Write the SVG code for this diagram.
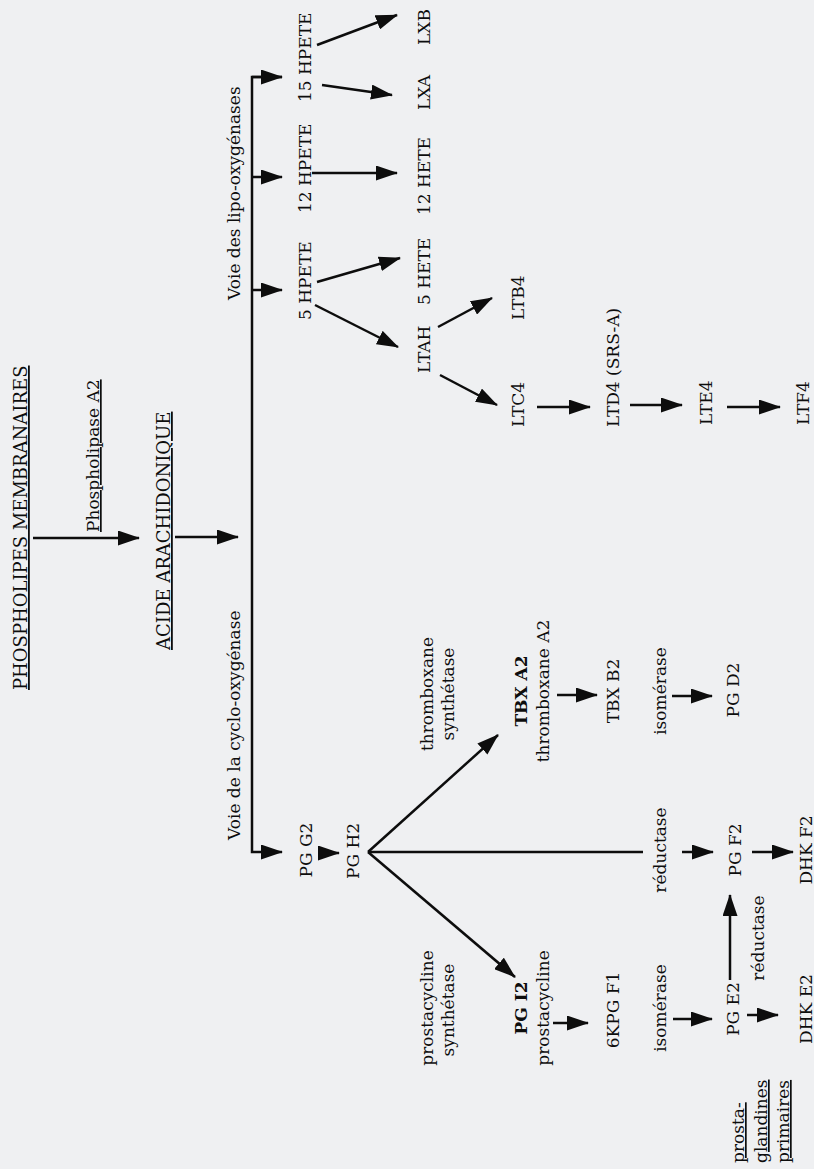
<svg xmlns="http://www.w3.org/2000/svg" width="814" height="1169" viewBox="0 0 814 1169">
<style>
.t{font-family:"DejaVu Serif","Liberation Serif",serif;font-size:17px;fill:#0d0d0d}
.h{font-size:18px}
.m{text-anchor:middle}
.b{font-weight:bold}
.u{text-decoration:underline}
.c line,.c polyline{stroke:#0d0d0d;stroke-width:2.5;fill:none}
.c .a{marker-end:url(#ah)}
</style>
<defs>
<marker id="ah" markerUnits="userSpaceOnUse" markerWidth="22" markerHeight="15" refX="21" refY="7.5" orient="auto">
<path d="M0,0 L22,7.5 L0,15 z" fill="#0d0d0d"/>
</marker>
</defs>
<rect width="814" height="1169" fill="#eff0f2"/>

<g id="connectors" class="c">
<line class="a" x1="33" y1="538" x2="139" y2="538"/>
<line class="a" x1="175" y1="537" x2="238" y2="537"/>
<polyline points="282,77 252,77 252,852 282,852" style="marker-end:url(#ah)"/>
<line class="a" x1="252" y1="77" x2="282" y2="77"/>
<line class="a" x1="252" y1="177" x2="282" y2="177"/>
<line class="a" x1="252" y1="290" x2="282" y2="290"/>
<line class="a" x1="317" y1="45" x2="397" y2="15"/>
<line class="a" x1="322" y1="85" x2="392" y2="95"/>
<line class="a" x1="312" y1="173" x2="397" y2="173"/>
<line class="a" x1="317" y1="282" x2="400" y2="258"/>
<line class="a" x1="315" y1="305" x2="398" y2="347"/>
<line class="a" x1="438" y1="327" x2="492" y2="298"/>
<line class="a" x1="440" y1="375" x2="497" y2="405"/>
<line class="a" x1="537" y1="407" x2="590" y2="407"/>
<line class="a" x1="630" y1="405" x2="682" y2="405"/>
<line class="a" x1="727" y1="407" x2="780" y2="407"/>
<line class="a" x1="318" y1="853" x2="339" y2="853"/>
<line class="a" x1="368" y1="852" x2="498" y2="735"/>
<line class="a" x1="368" y1="852" x2="515" y2="977"/>
<line x1="368" y1="852" x2="643" y2="852"/>
<line class="a" x1="682" y1="852" x2="713" y2="852"/>
<line class="a" x1="752" y1="852" x2="793" y2="852"/>
<line class="a" x1="557" y1="695" x2="597" y2="695"/>
<line class="a" x1="672" y1="696" x2="712" y2="696"/>
<line class="a" x1="553" y1="1023" x2="588" y2="1023"/>
<line class="a" x1="673" y1="1019" x2="712" y2="1019"/>
<line class="a" x1="730" y1="980" x2="730" y2="895"/>
<line class="a" x1="747" y1="1015" x2="778" y2="1015"/>
</g>

<g id="phospholipides"><text class="t h u" transform="translate(27,690) rotate(-90)">PHOSPHOLIPES MEMBRANAIRES</text></g>
<g id="phospholipase"><text class="t u" transform="translate(99,532) rotate(-90)">Phospholipase A2</text></g>
<g id="acide"><text class="t h u" transform="translate(170,650) rotate(-90)">ACIDE ARACHIDONIQUE</text></g>
<g id="voie-lipo"><text class="t" transform="translate(240,300) rotate(-90)">Voie des lipo-oxygénases</text></g>
<g id="voie-cyclo"><text class="t" transform="translate(240,840) rotate(-90)">Voie de la cyclo-oxygénase</text></g>

<g id="hpete15"><text class="t" transform="translate(311,102) rotate(-90)">15 HPETE</text></g>
<g id="hpete12"><text class="t" transform="translate(311,213) rotate(-90)">12 HPETE</text></g>
<g id="hpete5"><text class="t" transform="translate(311,320) rotate(-90)">5 HPETE</text></g>
<g id="lxb"><text class="t" transform="translate(430,45) rotate(-90)">LXB</text></g>
<g id="lxa"><text class="t" transform="translate(430,110) rotate(-90)">LXA</text></g>
<g id="hete12"><text class="t" transform="translate(430,215) rotate(-90)">12 HETE</text></g>
<g id="hete5"><text class="t" transform="translate(430,305) rotate(-90)">5 HETE</text></g>
<g id="ltah"><text class="t" transform="translate(430,373) rotate(-90)">LTAH</text></g>
<g id="ltb4"><text class="t" transform="translate(524,320) rotate(-90)">LTB4</text></g>
<g id="ltc4"><text class="t" transform="translate(524,427) rotate(-90)">LTC4</text></g>
<g id="ltd4"><text class="t" transform="translate(619,427) rotate(-90)">LTD4 (SRS-A)</text></g>
<g id="lte4"><text class="t" transform="translate(712,425) rotate(-90)">LTE4</text></g>
<g id="ltf4"><text class="t" transform="translate(809,425) rotate(-90)">LTF4</text></g>

<g id="pgg2"><text class="t m" transform="translate(312,850) rotate(-90)">PG G2</text></g>
<g id="pgh2"><text class="t m" transform="translate(359,851) rotate(-90)">PG H2</text></g>
<g id="tbx-synth"><text class="t m" transform="translate(433,694) rotate(-90)">thromboxane</text><text class="t m" transform="translate(454,694) rotate(-90)">synthétase</text></g>
<g id="tbxa2"><text class="t m b" transform="translate(527,691) rotate(-90)">TBX A2</text><text class="t m" transform="translate(549,691) rotate(-90)">thromboxane A2</text></g>
<g id="tbxb2"><text class="t m" transform="translate(619,691) rotate(-90)">TBX B2</text></g>
<g id="isom1"><text class="t m" transform="translate(666,691) rotate(-90)">isomérase</text></g>
<g id="pgd2"><text class="t m" transform="translate(739,690) rotate(-90)">PG D2</text></g>
<g id="reduc1"><text class="t m" transform="translate(666,850) rotate(-90)">réductase</text></g>
<g id="pgf2"><text class="t m" transform="translate(741,850) rotate(-90)">PG F2</text></g>
<g id="dhkf2"><text class="t m" transform="translate(812,850) rotate(-90)">DHK F2</text></g>
<g id="prosta-synth"><text class="t m" transform="translate(433,1008) rotate(-90)">prostacycline</text><text class="t m" transform="translate(454,1010) rotate(-90)">synthétase</text></g>
<g id="pgi2"><text class="t m b" transform="translate(527,1008) rotate(-90)">PG I2</text><text class="t m" transform="translate(549,1008) rotate(-90)">prostacycline</text></g>
<g id="kpgf1"><text class="t m" transform="translate(619,1010) rotate(-90)">6KPG F1</text></g>
<g id="isom2"><text class="t m" transform="translate(666,1008) rotate(-90)">isomérase</text></g>
<g id="pge2"><text class="t m" transform="translate(739,1009) rotate(-90)">PG E2</text></g>
<g id="reduc2"><text class="t m" transform="translate(764,938) rotate(-90)">réductase</text></g>
<g id="dhke2"><text class="t m" transform="translate(812,1009) rotate(-90)">DHK E2</text></g>
<g id="primaires"><text class="t u" transform="translate(744,1163) rotate(-90)">prosta-</text><text class="t u" transform="translate(767,1163) rotate(-90)">glandines</text><text class="t u" transform="translate(789,1163) rotate(-90)">primaires</text></g>
</svg>
